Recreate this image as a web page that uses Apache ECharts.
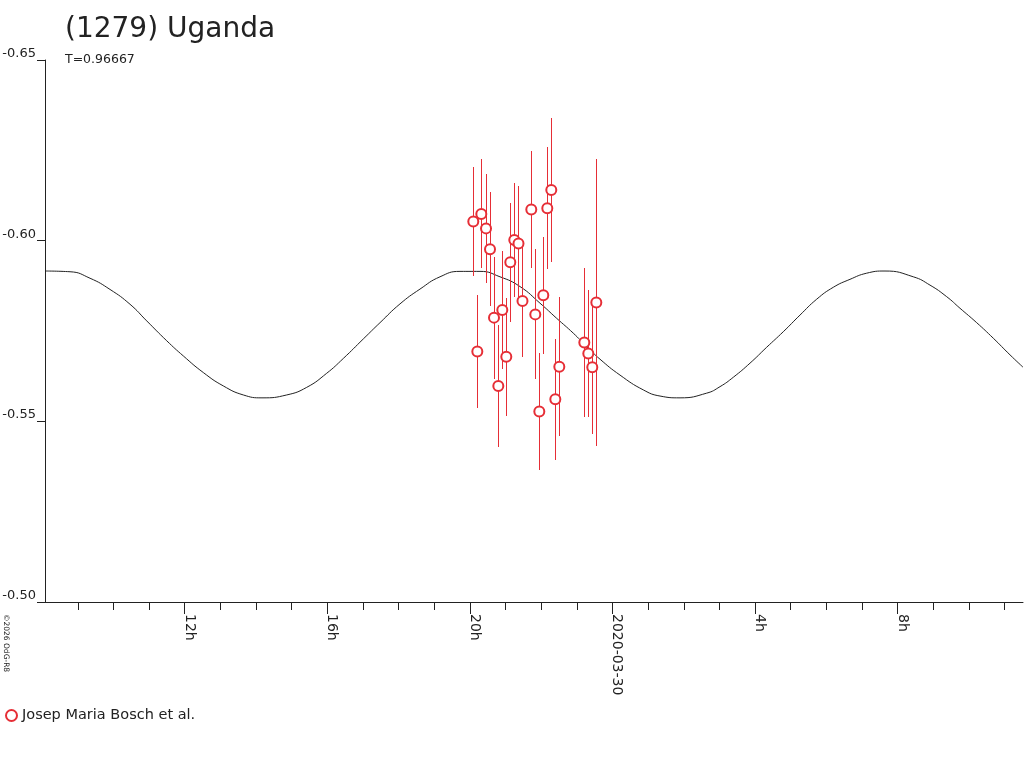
<!DOCTYPE html>
<html>
<head>
<meta charset="utf-8">
<script src="https://cdn.jsdelivr.net/npm/echarts@6/dist/echarts.min.js"></script>
<style>
  html, body { margin: 0; padding: 0; background: #fff; }
  #chart { width: 1024px; height: 768px; }
</style>
</head>
<body>
<div id="chart"></div>
<script>
// hours counted from 2020-03-29 00:00
var curveHours = [8.081, 8.783, 9.344, 9.905, 10.466, 10.934, 11.495, 11.961, 12.522, 13.083,
  13.644, 14.168, 14.861, 15.422, 15.983, 16.449, 17.010, 17.478, 18.039, 18.600,
  19.161, 19.722, 20.283, 20.844, 21.405, 21.966, 22.435, 22.900, 23.276, 23.649,
  24.210, 24.864, 25.333, 25.894, 26.642, 27.016, 27.389, 27.857, 28.325, 28.791,
  29.259, 29.728, 30.194, 30.662, 31.130, 31.644, 32.438, 32.906, 33.374, 33.747,
  34.216, 34.682, 35.150, 35.514];
var curveMags = [-0.5916, -0.5914, -0.5896, -0.5865, -0.5824, -0.5778, -0.5723, -0.5681, -0.5635, -0.5598,
  -0.5573, -0.5565, -0.5573, -0.5594, -0.5633, -0.5674, -0.5728, -0.5773, -0.5825, -0.5866,
  -0.5900, -0.5915, -0.5915, -0.5900, -0.5873, -0.5827, -0.5785, -0.5744, -0.5707, -0.5672,
  -0.5628, -0.5587, -0.5570, -0.5565, -0.5578, -0.5596, -0.5622, -0.5661, -0.5705, -0.5748,
  -0.5794, -0.5838, -0.5871, -0.5893, -0.5910, -0.5916, -0.5900, -0.5877, -0.5845, -0.5813,
  -0.5773, -0.5730, -0.5684, -0.5650];

var obsHours = [20.095, 20.208, 20.320, 20.452, 20.564, 20.676, 20.797, 20.909, 21.021, 21.133,
  21.245, 21.363, 21.475, 21.722, 21.834, 21.947, 22.059, 22.171, 22.283, 22.396,
  22.508, 23.209, 23.321, 23.433, 23.546];
var obsMags = [-0.6053, -0.5693, -0.6074, -0.6034, -0.5976, -0.5787, -0.5598, -0.5808, -0.5679, -0.5940,
  -0.6002, -0.5992, -0.5833, -0.6086, -0.5796, -0.5527, -0.5849, -0.6090, -0.6140, -0.5561,
  -0.5651, -0.5718, -0.5688, -0.5650, -0.5829];
var obsErrors = [0.0152, 0.0157, 0.0151, 0.0150, 0.0158, 0.0169, 0.0168, 0.0163, 0.0163, 0.0165,
  0.0158, 0.0159, 0.0155, 0.0162, 0.0180, 0.0161, 0.0162, 0.0168, 0.0199, 0.0167,
  0.0192, 0.0205, 0.0175, 0.0185, 0.0397];

var minorTicks = [9, 10, 11, 12, 13, 14, 15, 16, 17, 18, 19, 20, 21, 22, 23, 24, 25, 26, 27, 28,
  29, 30, 31, 32, 33, 34, 35];
var majorTicks = [12, 16, 20, 24, 28, 32];
var majorLabels = ['12h', '16h', '20h', '2020-03-30', '4h', '8h'];

var observer = 'Josep Maria Bosch et al.';
var red = '#e62e36';
var ink = '#222';
var font = 'DejaVu Sans';
var xMin = 8.081, xMax = 35.515;

var chart = echarts.init(document.getElementById('chart'));

var lineData = curveHours.map(function (h, i) { return [h, curveMags[i]]; });
var pointData = obsHours.map(function (h, i) { return [h, obsMags[i]]; });
var barData = obsHours.map(function (h, i) {
  return [h, obsMags[i] - obsErrors[i], obsMags[i] + obsErrors[i]];
});

chart.setOption({
  animation: false,
  backgroundColor: '#fff',
  title: {
    text: '(1279) Uganda',
    subtext: 'T=0.96667',
    left: 60,
    top: 11,
    itemGap: 9,
    textStyle: { fontFamily: font, fontSize: 28, fontWeight: 'normal', color: ink },
    subtextStyle: { fontFamily: font, fontSize: 12.5, color: ink }
  },
  legend: {
    data: [observer],
    left: 0,
    top: 703,
    itemWidth: 11,
    itemHeight: 11,
    itemStyle: { borderWidth: 1 },
    textStyle: { fontFamily: font, fontSize: 14.5, color: ink }
  },
  graphic: [{
    type: 'text',
    x: 2,
    y: 614,
    rotation: -Math.PI / 2,
    style: { text: '\u00a92026 OdG-R8', fontFamily: font, fontSize: 7.5, fill: ink, align: 'left', verticalAlign: 'bottom' }
  }],
  grid: { left: 45, right: 1, top: 60, bottom: 166, containLabel: false, outerBoundsMode: 'none' },
  xAxis: [{
    type: 'value',
    min: xMin,
    max: xMax,
    position: 'bottom',
    axisLine: { lineStyle: { color: ink, width: 1 } },
    axisTick: { show: true, length: 8, customValues: minorTicks, lineStyle: { color: ink } },
    axisLabel: { show: false },
    splitLine: { show: false }
  }, {
    type: 'value',
    min: xMin,
    max: xMax,
    position: 'bottom',
    axisLine: { show: false },
    axisTick: { show: true, length: 12, customValues: majorTicks, lineStyle: { color: ink } },
    axisLabel: {
      customValues: majorTicks,
      rotate: -90,
      margin: 12,
      fontFamily: font,
      fontSize: 14,
      color: ink,
      verticalAlign: 'bottom',
      lineHeight: 9,
      formatter: function (v) { return majorLabels[majorTicks.indexOf(Math.round(v))]; }
    },
    splitLine: { show: false }
  }],
  yAxis: {
    type: 'value',
    inverse: true,
    min: -0.65,
    max: -0.50,
    interval: 0.05,
    axisLine: { show: true, lineStyle: { color: ink, width: 1 } },
    axisTick: { show: true, length: 8, lineStyle: { color: ink } },
    axisLabel: {
      margin: 9,
      fontFamily: font,
      fontSize: 13,
      color: ink,
      verticalAlign: 'bottom',
      formatter: function (v) { return v.toFixed(2); }
    },
    splitLine: { show: false }
  },
  series: [{
    name: 'model',
    type: 'line',
    data: lineData,
    smooth: true,
    showSymbol: false,
    lineStyle: { color: ink, width: 1 },
    z: 1
  }, {
    name: 'errors',
    type: 'custom',
    data: barData,
    encode: { x: 0, y: [1, 2] },
    renderItem: function (params, api) {
      var a = api.coord([api.value(0), api.value(1)]);
      var b = api.coord([api.value(0), api.value(2)]);
      var x = Math.round(a[0]) + 0.5;
      return {
        type: 'line',
        shape: { x1: x, y1: Math.round(a[1]), x2: x, y2: Math.round(b[1]) },
        style: { stroke: red, lineWidth: 1, opacity: 1 }
      };
    },
    z: 2
  }, {
    name: observer,
    type: 'scatter',
    data: pointData,
    symbol: 'emptyCircle',
    symbolSize: 10,
    itemStyle: { color: red, borderColor: red, borderWidth: 0.9, opacity: 1 },
    z: 3
  }]
});
</script>
</body>
</html>
